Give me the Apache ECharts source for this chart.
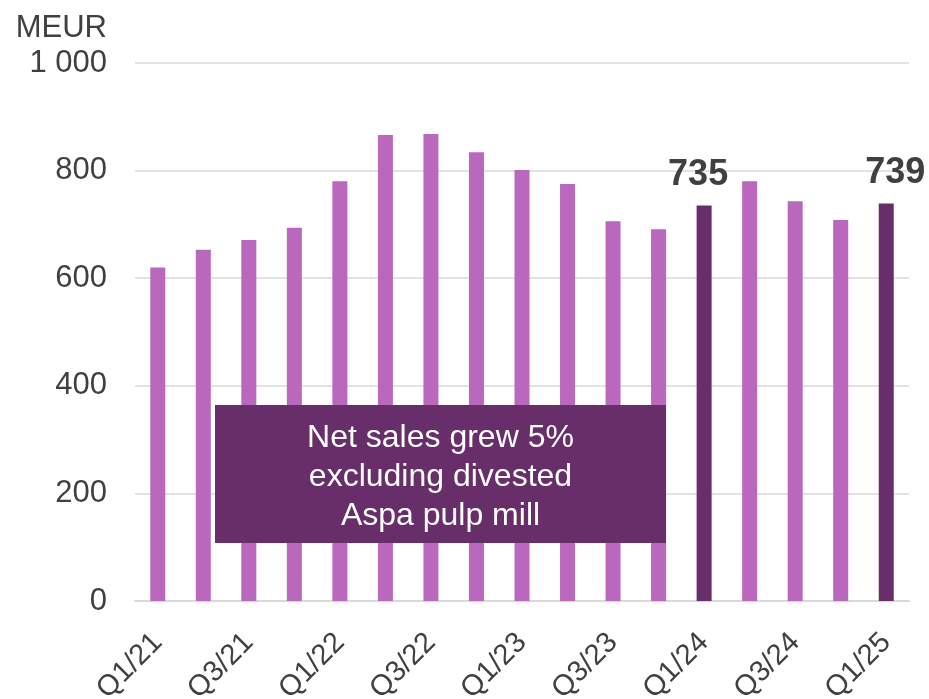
<!DOCTYPE html>
<html>
<head>
<meta charset="utf-8">
<script src="https://cdn.jsdelivr.net/npm/echarts@6/dist/echarts.min.js"></script>
<style>
  html, body { margin: 0; padding: 0; background: #ffffff; }
  #chart { width: 929px; height: 699px; }
</style>
</head>
<body>
<div id="chart"></div>
<script>
// Quarterly net sales, MEUR
const quarters = ['Q1/21', 'Q2/21', 'Q3/21', 'Q4/21', 'Q1/22', 'Q2/22', 'Q3/22', 'Q4/22',
                  'Q1/23', 'Q2/23', 'Q3/23', 'Q4/23', 'Q1/24', 'Q2/24', 'Q3/24', 'Q4/24', 'Q1/25'];
const netSales = [620, 653, 671, 694, 780, 866, 868, 834, 801, 775, 706, 691, 735, 780, 743, 708, 739];
// Quarters shown highlighted with their value written above the bar
const highlighted = ['Q1/24', 'Q1/25'];
const yTicks = [0, 200, 400, 600, 800, 1000];
const unitLabel = 'MEUR';
const noteLines = ['Net sales grew 5%', 'excluding divested', 'Aspa pulp mill'];

const LIGHT = '#BA68BE';
const DARK = '#672E6A';
const TEXT = '#404040';
const FONT = '"Liberation Sans", Arial, sans-serif';

const labelOffsets = { 'Q1/24': [-6, 0], 'Q1/25': [9, 0] };

const barData = netSales.map((v, i) => {
  const q = quarters[i];
  const hi = highlighted.includes(q);
  const item = { value: v, itemStyle: { color: hi ? DARK : LIGHT } };
  if (hi) {
    item.label = {
      show: true,
      position: 'top',
      distance: 12,
      offset: labelOffsets[q],
      formatter: '{c}',
      color: TEXT,
      fontFamily: FONT,
      fontWeight: 'bold',
      fontSize: 36
    };
  }
  return item;
});

const chart = echarts.init(document.getElementById('chart'), null, { renderer: 'canvas' });

chart.setOption({
  animation: false,
  backgroundColor: '#ffffff',
  textStyle: { fontFamily: FONT },
  grid: { left: 135, right: 20, top: 63, bottom: 98, containLabel: false, outerBoundsMode: 'none' },
  xAxis: {
    type: 'category',
    data: quarters,
    boundaryGap: true,
    axisLine: { show: true, lineStyle: { color: '#D9D9D9', width: 2 } },
    axisTick: { show: false },
    axisLabel: {
      interval: 1,
      rotate: 45,
      margin: 37,
      color: TEXT,
      fontSize: 29,
      fontFamily: FONT
    }
  },
  yAxis: {
    type: 'value',
    min: yTicks[0],
    max: yTicks[yTicks.length - 1],
    interval: yTicks[1] - yTicks[0],
    axisLine: { show: false },
    axisTick: { show: false },
    splitLine: { lineStyle: { color: '#E3E3E3', width: 2 } },
    axisLabel: {
      margin: 28,
      color: TEXT,
      fontSize: 31,
      fontFamily: FONT,
      formatter: v => String(v).replace(/\B(?=(\d{3})+(?!\d))/g, ' ')
    }
  },
  series: [{
    type: 'bar',
    data: barData,
    barWidth: 15,
    itemStyle: { color: LIGHT }
  }],
  graphic: {
    elements: [
      {
        type: 'text',
        right: 929 - 107,
        top: 13,
        style: {
          text: unitLabel,
          fill: TEXT,
          font: '31px ' + FONT,
          textAlign: 'right'
        }
      },
      {
        type: 'rect',
        x: 215,
        y: 405,
        z: 100,
        zlevel: 1,
        shape: { x: 0, y: 0, width: 451, height: 138 },
        style: { fill: DARK }
      },
      {
        type: 'text',
        x: 440.5,
        y: 477,
        z: 101,
        zlevel: 1,
        style: {
          text: noteLines.join('\n'),
          fill: '#ffffff',
          font: '32px ' + FONT,
          lineHeight: 39,
          align: 'center',
          verticalAlign: 'middle'
        }
      }
    ]
  }
});
</script>
</body>
</html>
